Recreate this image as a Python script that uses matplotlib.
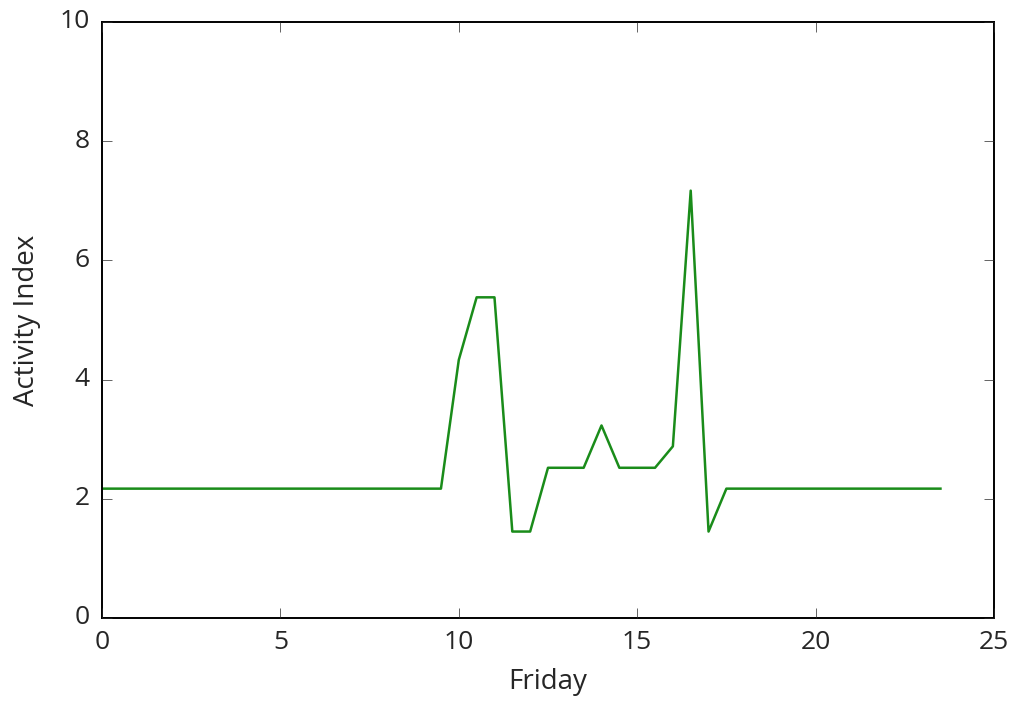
import matplotlib
matplotlib.use('Agg')
import matplotlib.pyplot as plt
import numpy as np

hours = np.arange(0, 24, 0.5)
activity = [2.17] * 20 + [4.33, 5.38, 5.38, 1.45, 1.45, 2.52, 2.52, 2.52, 3.23,
                          2.52, 2.52, 2.52, 2.88, 7.17, 1.45] + [2.17] * 13

plt.style.use('classic')
plt.rcParams['font.family'] = 'Open Sans'
plt.rcParams['text.color'] = '#262626'
plt.rcParams['xtick.color'] = '#262626'
plt.rcParams['ytick.color'] = '#262626'

fig = plt.figure(figsize=(10.18, 7.02), dpi=100, facecolor='white')
ax = fig.add_axes([0.1002, 0.1197, 0.8762, 0.849])
ax.plot(hours, activity, color='#1a8c1a', lw=1.8)
ax.set_xlim(0, 25)
ax.set_ylim(0, 10)
ax.set_xlabel('Friday', fontsize=20, labelpad=9, color='#262626')
ax.set_ylabel('Activity Index', fontsize=20, labelpad=13, color='#262626')
ax.tick_params(labelsize=19, length=7, pad=9)
for s in ax.spines.values():
    s.set_linewidth(1.4)
fig.savefig('out.png', dpi=100, facecolor='white')
